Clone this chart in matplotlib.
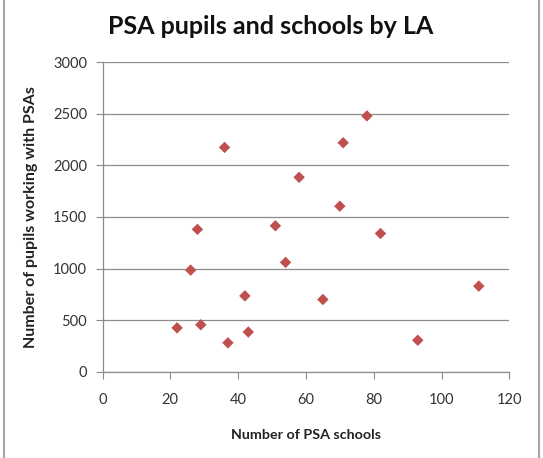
import matplotlib
matplotlib.use("Agg")
import matplotlib.pyplot as plt

plt.rcParams['font.family'] = ['Lato', 'DejaVu Sans']

psa_schools = [36, 58, 28, 51, 26, 54, 42, 22, 29, 43, 37, 78, 71, 70, 82, 65, 111, 93]
psa_pupils = [2175, 1885, 1380, 1415, 985, 1060, 735, 425, 455, 385, 280, 2480, 2220, 1605, 1340, 700, 830, 305]

x_ticks = [0, 20, 40, 60, 80, 100, 120]
y_ticks = [0, 500, 1000, 1500, 2000, 2500, 3000]

title = "PSA pupils and schools by LA"
x_label = "Number of PSA schools"
y_label = "Number of pupils working with PSAs"

W, H = 543, 458
fig = plt.figure(figsize=(W / 100, H / 100), dpi=100)
ax = fig.add_axes([102.5 / W, 1 - 371.7 / H, (509.3 - 102.5) / W, (371.7 - 62.3) / H])

# outer chart border (left and right visible)
fig.add_artist(plt.Line2D([3.5 / W, 3.5 / W], [0, 1], transform=fig.transFigure, color='#a6a6a6', lw=1.5))
fig.add_artist(plt.Line2D([538.5 / W, 538.5 / W], [0, 1], transform=fig.transFigure, color='#a6a6a6', lw=1.5))

ax.scatter(psa_schools, psa_pupils, marker='D', s=34, color='#C0504D', edgecolors='none', zorder=3)

ax.set_xlim(0, 120)
ax.set_ylim(0, 3000)
ax.set_xticks(x_ticks)
ax.set_yticks(y_ticks)
ax.grid(axis='y', color='#8c8c8c', lw=0.9)
ax.set_axisbelow(True)
for s in ['top', 'right']:
    ax.spines[s].set_visible(False)
for s in ['left', 'bottom']:
    ax.spines[s].set_color('#8c8c8c')
    ax.spines[s].set_linewidth(0.9)
ax.tick_params(axis='x', direction='out', length=5, color='#8c8c8c', labelsize=10.5, labelcolor='#333333', pad=10)
ax.tick_params(axis='y', direction='out', length=5, color='#8c8c8c', labelsize=10.5, labelcolor='#333333', pad=6)

ax.set_xlabel(x_label, fontsize=10.3, fontweight='bold', color='#222222', labelpad=16)
ax.set_ylabel(y_label, fontsize=11.5, fontweight='bold', color='#222222', labelpad=11)
fig.text(271 / W, 1 - 26 / H, title, ha='center', va='center', fontsize=18, fontweight='bold', color='#111111')

fig.savefig('out.png', dpi=100)
